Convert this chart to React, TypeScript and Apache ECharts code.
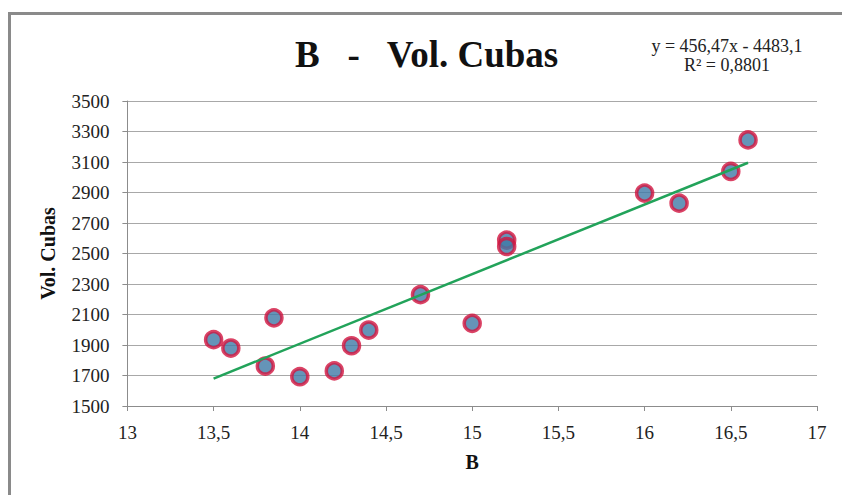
import React, { useEffect, useRef } from "react";
import * as echarts from "echarts";

const titleText = "B   -   Vol. Cubas";
const equationText = "y = 456,47x - 4483,1\nR² = 0,8801";
const xName = "B";
const yName = "Vol. Cubas";

const bValues = [13.5, 13.6, 13.8, 13.85, 14.0, 14.2, 14.3, 14.4, 14.7, 15.0, 15.2, 15.2, 16.0, 16.2, 16.5, 16.6];
const volValues = [1935, 1880, 1762, 2078, 1692, 1730, 1895, 1998, 2230, 2042, 2588, 2546, 2896, 2830, 3038, 3245];

const trendX = [13.5, 16.6];
const trendY = [1680, 3095];

const xMin = 13;
const xMax = 17;
const xStep = 0.5;
const yMin = 1500;
const yMax = 3500;
const yStep = 200;

const FONT = "Liberation Serif";

const fmt = (v: number) => String(v).replace(".", ",");

export default function App() {
  const ref = useRef<HTMLDivElement>(null);

  useEffect(() => {
    if (!ref.current) return;
    const chart = echarts.init(ref.current, undefined, { renderer: "svg" });
    chart.setOption({
      animation: false,
      backgroundColor: "#ffffff",
      textStyle: { fontFamily: FONT },
      title: [
        {
          text: titleText,
          left: 295,
          top: 36,
          padding: 0,
          textStyle: {
            fontFamily: FONT,
            fontWeight: "bold",
            fontSize: 37,
            lineHeight: 36,
            color: "#111111",
          },
        },
        {
          text: equationText,
          left: 727,
          top: 36,
          padding: 0,
          textAlign: "center",
          textStyle: {
            fontFamily: FONT,
            fontWeight: "normal",
            fontSize: 18,
            lineHeight: 19,
            color: "#222222",
          },
        },
      ],
      graphic: [
        {
          type: "polyline",
          silent: true,
          shape: { points: [[9.5, 495], [9.5, 13.5], [842, 13.5]] },
          style: { stroke: "#8a8a8a", lineWidth: 3, fill: null },
        },
      ],
      grid: { left: 127.4, right: 25, top: 101, bottom: 89 },
      xAxis: {
        type: "value",
        min: xMin,
        max: xMax,
        interval: xStep,
        name: xName,
        nameLocation: "middle",
        nameGap: 46,
        nameTextStyle: { fontFamily: FONT, fontWeight: "bold", fontSize: 20, color: "#111" },
        axisLine: { show: true, lineStyle: { color: "#8c8c8c", width: 1 } },
        axisTick: { show: true, length: 5, lineStyle: { color: "#8c8c8c" } },
        axisLabel: { fontFamily: FONT, fontSize: 19, color: "#222", margin: 17, formatter: fmt },
        splitLine: { show: false },
      },
      yAxis: {
        type: "value",
        min: yMin,
        max: yMax,
        interval: yStep,
        name: yName,
        nameLocation: "middle",
        nameGap: 69,
        nameTextStyle: { fontFamily: FONT, fontWeight: "bold", fontSize: 20, color: "#111" },
        axisLine: { show: true, lineStyle: { color: "#8c8c8c", width: 1 } },
        axisTick: { show: true, length: 5, lineStyle: { color: "#8c8c8c" } },
        axisLabel: { fontFamily: FONT, fontSize: 19, color: "#222", margin: 18, formatter: fmt },
        splitLine: { show: true, lineStyle: { color: "#a8a8a8", width: 1 } },
      },
      series: [
        {
          type: "scatter",
          name: yName,
          data: bValues.map((x, i) => [x, volValues[i]]),
          symbol: "circle",
          symbolSize: 16,
          itemStyle: { color: "#3f79a6", borderColor: "#d2143e", borderWidth: 3.5 },
          z: 2,
        },
        {
          type: "line",
          name: "Lineal",
          data: trendX.map((x, i) => [x, trendY[i]]),
          showSymbol: false,
          symbol: "none",
          lineStyle: { color: "#22a35a", width: 2.5 },
          z: 3,
        },
      ],
    });
    return () => chart.dispose();
  }, []);

  return (
    <div
      ref={ref}
      style={{ position: "absolute", left: 0, top: 0, width: 842, height: 495 }}
    />
  );
}
